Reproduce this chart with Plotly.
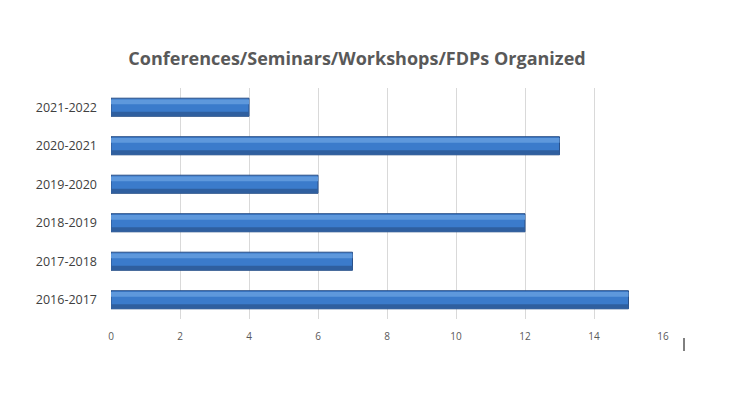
import plotly.graph_objects as go

categories = ["2016-2017", "2017-2018", "2018-2019", "2019-2020", "2020-2021", "2021-2022"]
values = [15, 7, 12, 6, 13, 4]
x_ticks = [0, 2, 4, 6, 8, 10, 12, 14, 16]
title_text = "Conferences/Seminars/Workshops/FDPs Organized"

fig = go.Figure()
# main bar body
fig.add_trace(go.Bar(
    y=categories, x=values, orientation="h", width=0.47,
    marker=dict(color="#3b7bcb", line=dict(color="#2a5088", width=1)),
    hoverinfo="x+y", showlegend=False,
))
# darker lower band (3D shading)
fig.add_trace(go.Bar(
    y=categories, x=values, orientation="h", width=0.11, offset=-0.225,
    marker=dict(color="#2f5f9f", line=dict(width=0)),
    hoverinfo="skip", showlegend=False,
))
# lighter upper highlight
fig.add_trace(go.Bar(
    y=categories, x=values, orientation="h", width=0.12, offset=0.08,
    marker=dict(color="#5e98dc", line=dict(width=0)),
    hoverinfo="skip", showlegend=False,
))

W, H = 724, 400
L, R, T, B = 103, 69, 80, 89
fig.update_layout(
    width=W, height=H,
    barmode="overlay",
    paper_bgcolor="white", plot_bgcolor="white",
    margin=dict(l=L, r=R, t=T, b=B),
    title=dict(text="<b>" + title_text + "</b>", x=349 / W, xanchor="center",
               y=1 - 51 / H, yanchor="middle",
               font=dict(family="Open Sans", size=18, color="#595959")),
    xaxis=dict(range=[0, 16], tickvals=x_ticks, showgrid=True, gridcolor="#d9d9d9",
               gridwidth=1, zeroline=False, showline=False, ticks="",
               ticklabelstandoff=10,
               tickfont=dict(family="Open Sans", size=10, color="#595959"),
               fixedrange=True),
    yaxis=dict(categoryorder="array", categoryarray=categories, showgrid=False,
               showline=False, ticks="", ticklabelstandoff=13,
               tickfont=dict(family="Open Sans", size=12.5, color="#404040"),
               range=[-0.5, 5.5]),
    shapes=[dict(type="line", xref="paper", yref="paper",
                 x0=(676 - L) / (W - L - R), x1=(676 - L) / (W - L - R),
                 y0=-(330 - (H - B)) / (H - T - B), y1=-(343 - (H - B)) / (H - T - B),
                 line=dict(color="black", width=1))],
)

fig.write_html("out.html")
